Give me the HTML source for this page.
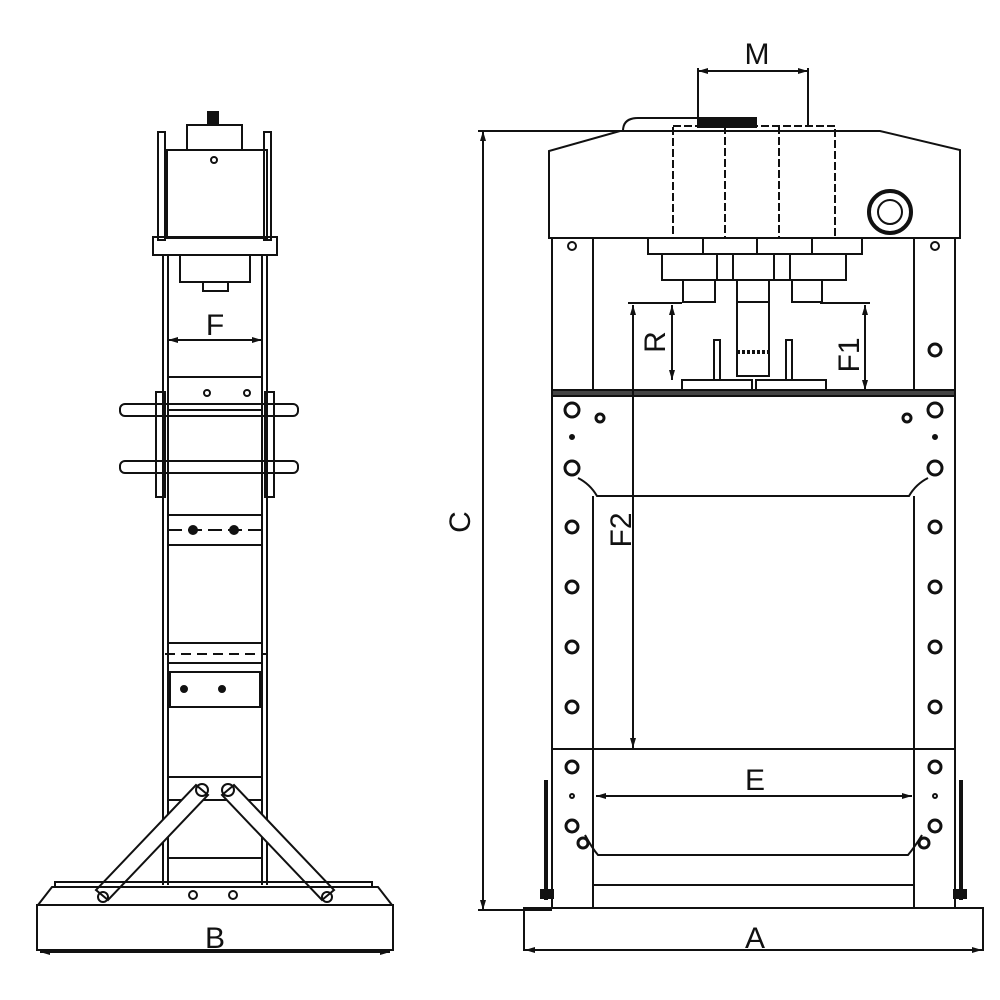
<!DOCTYPE html>
<html><head><meta charset="utf-8"><style>body{margin:0;background:#fff}svg{display:block}text{font-family:"Liberation Sans",sans-serif;fill:#111}</style></head><body>
<svg width="1000" height="1000" viewBox="0 0 1000 1000" xmlns="http://www.w3.org/2000/svg">
<defs><marker id="a" viewBox="0 0 10 6" refX="10" refY="3" markerWidth="10" markerHeight="6" orient="auto-start-reverse" markerUnits="userSpaceOnUse"><path d="M0,0 L10,3 L0,6 Z" fill="#111"/></marker></defs>
<g fill="none" stroke="#111" stroke-width="2">
<!-- LEFT VIEW -->
<rect x="187" y="125" width="55" height="25"/>
<rect x="208" y="112" width="10" height="13" fill="#111"/>
<rect x="167" y="150" width="100" height="88"/>
<circle cx="214" cy="160" r="3"/>
<rect x="158" y="132" width="7" height="108"/>
<rect x="264" y="132" width="7" height="108"/>
<rect x="153" y="237" width="124" height="18"/>
<rect x="180" y="255" width="70" height="27"/>
<rect x="203" y="282" width="25" height="9"/>
<line x1="163" y1="255" x2="163" y2="885"/>
<line x1="168" y1="255" x2="168" y2="885"/>
<line x1="262" y1="255" x2="262" y2="885"/>
<line x1="267" y1="255" x2="267" y2="885"/>
<line x1="168" y1="340" x2="262" y2="340" marker-start="url(#a)" marker-end="url(#a)"/>
<rect x="168" y="377" width="94" height="33"/>
<circle cx="207" cy="393" r="3"/><circle cx="247" cy="393" r="3"/>
<rect x="120" y="404" width="178" height="12" rx="5"/>
<rect x="120" y="461" width="178" height="12" rx="5"/>
<rect x="156" y="392" width="9" height="105"/>
<rect x="265" y="392" width="9" height="105"/>
<rect x="168" y="515" width="94" height="30"/>
<line x1="168" y1="530" x2="262" y2="530" stroke-dasharray="14 6"/>
<circle cx="193" cy="530" r="4" fill="#111"/><circle cx="234" cy="530" r="4" fill="#111"/>
<rect x="168" y="643" width="94" height="20"/>
<line x1="165" y1="654" x2="266" y2="654" stroke-dasharray="10 6"/>
<rect x="170" y="672" width="90" height="35"/>
<circle cx="184" cy="689" r="3" fill="#111"/><circle cx="222" cy="689" r="3" fill="#111"/>
<rect x="168" y="777" width="94" height="23"/>
<line x1="168" y1="858" x2="262" y2="858"/>
<polygon points="196,785 208,795 108,900 96,890" fill="#fff"/>
<polygon points="234,785 222,795 322,900 334,890" fill="#fff"/>
<circle cx="202" cy="790" r="6"/><circle cx="228" cy="790" r="6"/>
<circle cx="103" cy="897" r="5"/><circle cx="327" cy="897" r="5"/>
<polyline points="55,886 55,882 372,882 372,886"/>
<polyline points="38,905 52,887 378,887 392,905"/>
<rect x="37" y="905" width="356" height="45"/>
<circle cx="193" cy="895" r="4"/><circle cx="233" cy="895" r="4"/>
<line x1="40" y1="952" x2="390" y2="952" marker-start="url(#a)" marker-end="url(#a)"/>
<!-- RIGHT VIEW -->
<path d="M549,238 L549,151 L620,131 L880,131 L960,150 L960,238 Z"/>
<path d="M623,131 q0,-13 15,-13 l60,0" />
<rect x="698" y="118" width="58" height="9" fill="#111"/>
<g stroke-dasharray="8 3"><rect x="673" y="126" width="162" height="112"/>
<line x1="725" y1="126" x2="725" y2="238"/><line x1="779" y1="126" x2="779" y2="238"/></g>
<circle cx="890" cy="212" r="21" stroke-width="4"/>
<circle cx="890" cy="212" r="12"/>
<rect x="648" y="238" width="214" height="16"/>
<line x1="703" y1="238" x2="703" y2="254"/><line x1="757" y1="238" x2="757" y2="254"/><line x1="812" y1="238" x2="812" y2="254"/>
<rect x="662" y="254" width="184" height="26"/>
<line x1="717" y1="254" x2="717" y2="280"/><line x1="733" y1="254" x2="733" y2="280"/><line x1="774" y1="254" x2="774" y2="280"/><line x1="790" y1="254" x2="790" y2="280"/>
<rect x="683" y="280" width="32" height="22"/><rect x="737" y="280" width="32" height="22"/><rect x="792" y="280" width="30" height="22"/>
<rect x="737" y="302" width="32" height="74"/>
<line x1="737" y1="352" x2="769" y2="352" stroke-dasharray="3 2" stroke-width="4"/>
<rect x="714" y="340" width="6" height="40"/><rect x="786" y="340" width="6" height="40"/>
<rect x="682" y="380" width="70" height="12"/><rect x="756" y="380" width="70" height="12"/>
<line x1="552" y1="238" x2="552" y2="908"/><line x1="593" y1="238" x2="593" y2="390"/>
<line x1="955" y1="238" x2="955" y2="908"/><line x1="914" y1="238" x2="914" y2="390"/>
<rect x="552" y="390" width="403" height="6" fill="#444"/>
<path d="M578,478 Q590,484 597,496 L909,496 Q916,484 928,478"/>
<line x1="593" y1="496" x2="593" y2="908"/><line x1="914" y1="496" x2="914" y2="908"/>
<line x1="552" y1="749" x2="955" y2="749"/>
<path d="M585,835 Q592,848 598,855 L908,855 Q914,848 922,835"/>
<line x1="593" y1="885" x2="914" y2="885"/>
<rect x="524" y="908" width="459" height="42"/>
<circle cx="572" cy="246" r="4"/><circle cx="935" cy="246" r="4"/>
<g stroke-width="3">
<circle cx="572" cy="410" r="7"/><circle cx="572" cy="468" r="7"/><circle cx="935" cy="410" r="7"/><circle cx="935" cy="468" r="7"/>
<circle cx="600" cy="418" r="4"/><circle cx="907" cy="418" r="4"/>
<circle cx="935" cy="350" r="6"/>
<circle cx="572" cy="527" r="6"/><circle cx="572" cy="587" r="6"/><circle cx="572" cy="647" r="6"/><circle cx="572" cy="707" r="6"/><circle cx="572" cy="767" r="6"/><circle cx="572" cy="826" r="6"/>
<circle cx="935" cy="527" r="6"/><circle cx="935" cy="587" r="6"/><circle cx="935" cy="647" r="6"/><circle cx="935" cy="707" r="6"/><circle cx="935" cy="767" r="6"/><circle cx="935" cy="826" r="6"/>
<circle cx="583" cy="843" r="5"/><circle cx="924" cy="843" r="5"/>
</g>
<circle cx="572" cy="437" r="2" fill="#111"/><circle cx="935" cy="437" r="2" fill="#111"/>
<circle cx="572" cy="796" r="2"/><circle cx="935" cy="796" r="2"/>
<line x1="546" y1="780" x2="546" y2="900" stroke-width="4"/><line x1="961" y1="780" x2="961" y2="900" stroke-width="4"/>
<rect x="541" y="890" width="12" height="8" fill="#111"/><rect x="954" y="890" width="12" height="8" fill="#111"/>
<!-- dims -->
<line x1="483" y1="131" x2="483" y2="910" marker-start="url(#a)" marker-end="url(#a)"/>
<line x1="478" y1="131" x2="625" y2="131"/>
<line x1="478" y1="910" x2="552" y2="910"/>
<line x1="698" y1="71" x2="808" y2="71" marker-start="url(#a)" marker-end="url(#a)"/>
<line x1="698" y1="68" x2="698" y2="125"/><line x1="808" y1="68" x2="808" y2="125"/>
<line x1="628" y1="303" x2="682" y2="303"/>
<line x1="633" y1="305" x2="633" y2="748" marker-start="url(#a)" marker-end="url(#a)"/>
<line x1="672" y1="305" x2="672" y2="380" marker-start="url(#a)" marker-end="url(#a)"/>
<line x1="865" y1="305" x2="865" y2="390" marker-start="url(#a)" marker-end="url(#a)"/>
<line x1="820" y1="303" x2="870" y2="303"/>
<line x1="596" y1="796" x2="912" y2="796" marker-start="url(#a)" marker-end="url(#a)"/>
<line x1="525" y1="950" x2="982" y2="950" marker-start="url(#a)" marker-end="url(#a)"/>
</g>
<g font-size="30">
<text x="215" y="948" text-anchor="middle">B</text>
<text x="755" y="948" text-anchor="middle">A</text>
<text x="755" y="790" text-anchor="middle">E</text>
<text x="757" y="64" text-anchor="middle">M</text>
<text x="215" y="335" text-anchor="middle">F</text>
<text transform="translate(470,522) rotate(-90)" text-anchor="middle">C</text>
<text transform="translate(665,342) rotate(-90)" text-anchor="middle">R</text>
<text transform="translate(859,355) rotate(-90)" text-anchor="middle">F1</text>
<text transform="translate(631,530) rotate(-90)" text-anchor="middle">F2</text>
</g>
</svg>
</body></html>
